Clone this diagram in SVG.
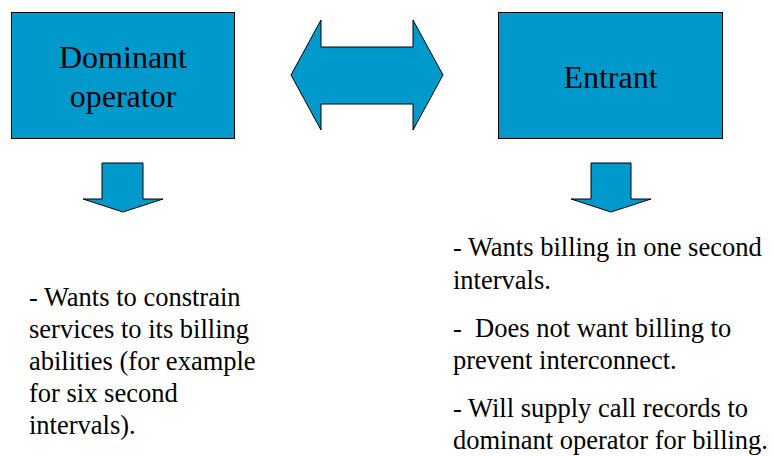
<svg xmlns="http://www.w3.org/2000/svg" width="773" height="456" viewBox="0 0 773 456">
<style>
.shape{fill:#0099CC;stroke:#000;stroke-width:1}
.lbl{font-family:'Liberation Serif','DejaVu Serif',serif;font-size:32px;fill:#000;text-anchor:middle}
.txt{font-family:'Liberation Serif','DejaVu Serif',serif;font-size:26.5px;fill:#000}
</style>
<rect width="773" height="456" fill="#fff"/>
<g id="dominant">
<rect class="shape" x="11.5" y="12.5" width="223" height="126"/>
<text class="lbl" x="123" y="68" font-family="Liberation Serif">Dominant</text>
<text class="lbl" x="123" y="107" font-family="Liberation Serif">operator</text>
</g>
<g id="entrant">
<rect class="shape" x="498.5" y="12.5" width="224" height="126"/>
<text class="lbl" x="610.5" y="88" font-family="Liberation Serif">Entrant</text>
</g>
<g id="connectors">
<polygon class="shape" points="291,75 321,20 321,47 413,47 413,20 443,75 413,130 413,104 321,104 321,130"/>
<polygon class="shape" points="102,163 143,163 143,199 163,199 123,212 83,199 102,199"/>
<polygon class="shape" points="591,163 631,163 631,199 651,199 611,212 571,199 591,199"/>
</g>
<g id="dominant-notes" font-family="Liberation Serif">
<text class="txt" x="29" y="306">- Wants to constrain</text>
<text class="txt" x="29" y="338">services to its billing</text>
<text class="txt" x="29" y="370">abilities (for example</text>
<text class="txt" x="29" y="402">for six second</text>
<text class="txt" x="29" y="434">intervals).</text>
</g>
<g id="entrant-notes" font-family="Liberation Serif">
<text class="txt" x="453" y="256">- Wants billing in one second</text>
<text class="txt" x="453" y="289">intervals.</text>
<text class="txt" x="453" y="337" xml:space="preserve">-  Does not want billing to</text>
<text class="txt" x="453" y="369">prevent interconnect.</text>
<text class="txt" x="453" y="417">- Will supply call records to</text>
<text class="txt" x="453" y="449">dominant operator for billing.</text>
</g>
</svg>
